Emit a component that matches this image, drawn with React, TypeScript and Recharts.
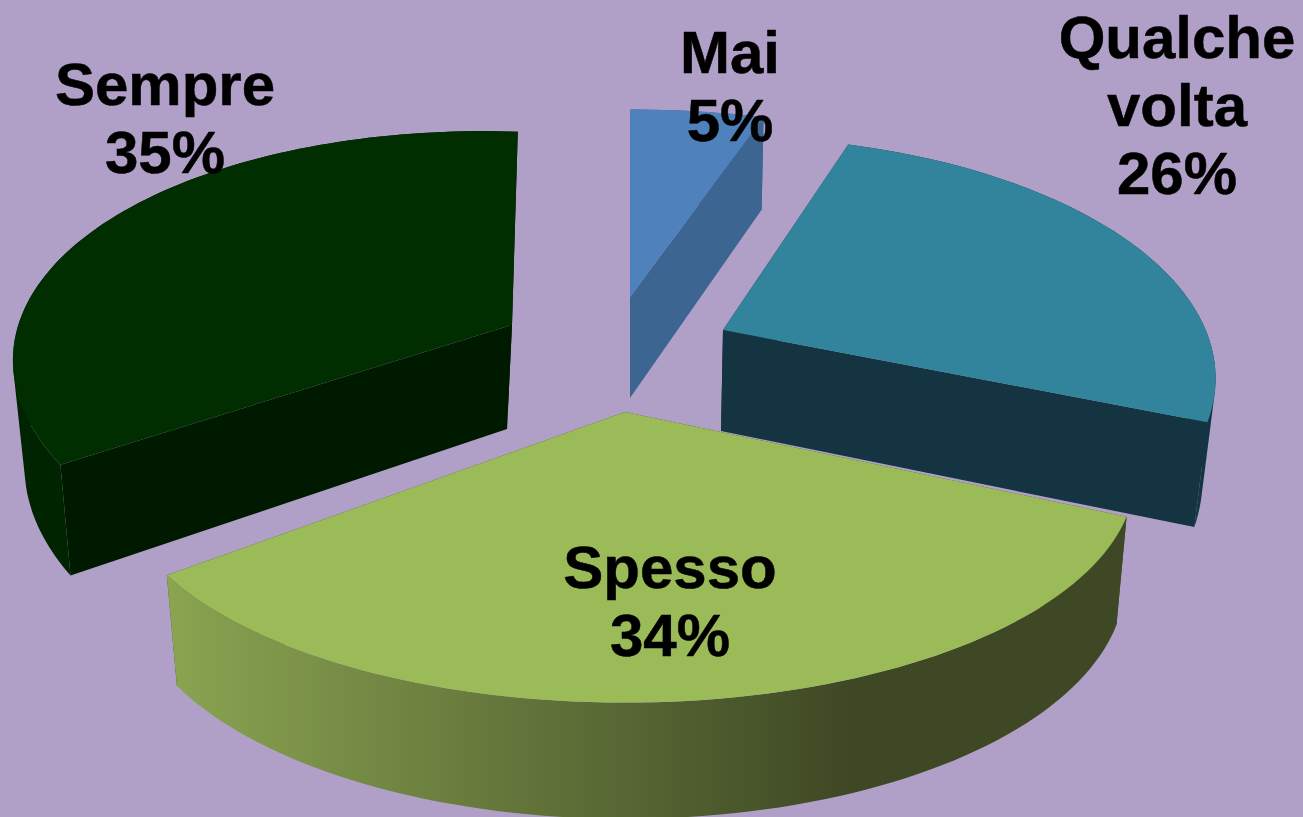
import React from "react";
import { PieChart, Pie } from "recharts";

const categories = ["Mai", "Qualche volta", "Spesso", "Sempre"];
const values = [5, 26, 34, 35];

const topColors = ["#4f81bd", "#31849b", "#9bbb59", "#002e00"];
const cutColors = ["#3d6591", "#133440", "#3e4824", "#001a00"];
const rimColors = ["#3d6591", "#133440", "url(#spessoRim)", "#002400"];
const explodeX = [10, 103, 5, -108];
const explodeY = [-53, -20, 62, -25];
const labelX = [730, 1177, 670, 165];
const labelY = [73, 58, 588, 105];

// per-slice view corrections: the source is a 3D projection whose slices differ slightly
const scaleX = [1.05, 0.985, 1.02, 0.995];
const scaleY = [0.97, 1, 0.94, 1];
const shiftY = [0, 0, 18, 0];
const shearY = [0, 0, 0, 0.033];
const shearX = [0, 0, 0, 0.03];
const depths = [101, 101, 104, 104];
const bottomScale = [0.985, 0.977, 0.979, 0.9666];
const vanishX = [630, 636, 646, 362];

const data = categories.map((name, i) => ({ name, value: values[i] }));

const BG = "#b0a0c7";
const RADIUS = 490;
const TILT = 232 / RADIUS;
const PERSPECTIVE = 0.2;
const CX = 620;
const CY = 350;

type Pt = { x: number; y: number; s: number };

function SliceShape(props: any) {
  const { cx, cy, outerRadius, startAngle, endAngle, name } = props;
  const i = categories.indexOf(name);
  const ax = cx + explodeX[i];
  const ay = cy + explodeY[i];
  const project = (deg: number): Pt => {
    const r = (deg * Math.PI) / 180;
    const s = 1 / (1 + PERSPECTIVE * Math.sin(r));
    const dx = outerRadius * Math.cos(r) * s * scaleX[i];
    const dy = -outerRadius * TILT * Math.sin(r) * s * scaleY[i] + shiftY[i];
    return {
      x: ax + dx - shearX[i] * dy,
      y: ay + dy + shearY[i] * dx,
      s,
    };
  };
  const down = (p: Pt): Pt => ({
    x: vanishX[i] + (p.x - vanishX[i]) * bottomScale[i],
    y: p.y + depths[i] * Math.sqrt(p.s),
    s: p.s,
  });
  const n = Math.max(2, Math.ceil(Math.abs(endAngle - startAngle) / 1.5));
  const arc: Pt[] = [];
  for (let k = 0; k <= n; k++) arc.push(project(startAngle + ((endAngle - startAngle) * k) / n));
  const apex: Pt = { x: ax, y: ay, s: 1 };
  const toPath = (pts: { x: number; y: number }[]) =>
    "M" + pts.map((p) => `${p.x.toFixed(1)},${p.y.toFixed(1)}`).join("L") + "Z";
  const oriented = (pts: Pt[]) => {
    let area = 0;
    pts.forEach((p, k) => {
      const q = pts[(k + 1) % pts.length];
      area += p.x * q.y - q.x * p.y;
    });
    return area < 0 ? [...pts].reverse() : pts;
  };
  let rimPath = "";
  for (let k = 0; k < arc.length - 1; k++) {
    rimPath += toPath(oriented([arc[k], arc[k + 1], down(arc[k + 1]), down(arc[k])]));
  }
  const startTip = arc[0];
  const endTip = arc[arc.length - 1];
  const cutA = [apex, startTip, down(startTip), down(apex)];
  const cutB = [apex, endTip, down(endTip), down(apex)];
  return (
    <g>
      <path d={toPath(cutA)} fill={cutColors[i]} stroke="none" />
      <path d={toPath(cutB)} fill={cutColors[i]} stroke="none" />
      <path d={rimPath} fill={rimColors[i]} fillRule="nonzero" stroke="none" />
      <path d={toPath([apex, ...arc])} fill={topColors[i]} stroke="none" />
    </g>
  );
}

function SliceLabel(props: any) {
  const { index, name, value } = props;
  const lines = [...String(name).split(" "), `${value}%`];
  return (
    <text
      textAnchor="middle"
      fontFamily="'Liberation Sans', Arial, sans-serif"
      fontWeight="bold"
      fontSize={60}
      fill="#000000"
      stroke="#000000"
      strokeWidth={0.5}
      strokeLinejoin="round"
    >
      {lines.map((line, k) => (
        <tspan key={k} x={labelX[index]} y={labelY[index] + k * 68}>
          {line}
        </tspan>
      ))}
    </text>
  );
}

export default function App() {
  return (
    <div
      style={{
        position: "absolute",
        left: 0,
        top: 0,
        width: 1303,
        height: 817,
        overflow: "hidden",
        background: BG,
      }}
    >
      <PieChart width={1303} height={817} margin={{ top: 0, right: 0, bottom: 0, left: 0 }}>
        <defs>
          <linearGradient id="spessoRim" gradientUnits="userSpaceOnUse" x1={170} y1={0} x2={850} y2={0}>
            <stop offset="0" stopColor="#8aa451" />
            <stop offset="1" stopColor="#3e4824" />
          </linearGradient>
        </defs>
        <Pie
          data={data}
          dataKey="value"
          nameKey="name"
          cx={CX}
          cy={CY}
          innerRadius={0}
          outerRadius={RADIUS}
          startAngle={90}
          endAngle={-270}
          paddingAngle={0}
          stroke="none"
          isAnimationActive={false}
          shape={SliceShape}
          label={SliceLabel}
          labelLine={false}
        />
      </PieChart>
    </div>
  );
}
